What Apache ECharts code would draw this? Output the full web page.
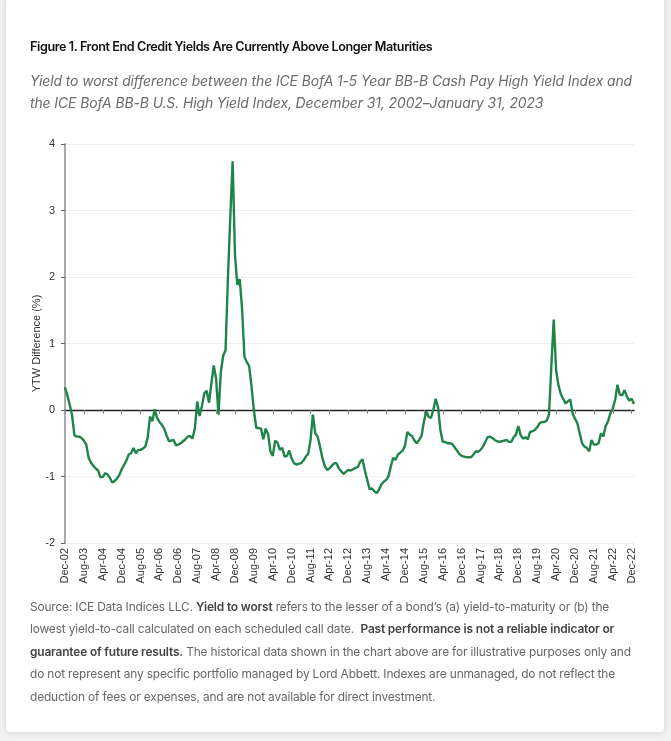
<!DOCTYPE html>
<html>
<head>
<meta charset="utf-8">
<script src="https://cdn.jsdelivr.net/npm/echarts@6/dist/echarts.min.js"></script>
<style>
  html, body { margin: 0; padding: 0; width: 671px; height: 741px; background: #f2f2f2; overflow: hidden; }
  #card { position: absolute; left: 6px; top: -6px; width: 658px; height: 738px; background: #fff;
          border-radius: 4px; box-shadow: 0 1px 6px rgba(0,0,0,0.12); }
  #chart { position: absolute; left: 0; top: 0; width: 671px; height: 741px; }
  .txt { position: absolute; left: 30px; font-family: Inter, "Noto Sans", sans-serif; white-space: nowrap; }
  #title { top: 39px; font-size: 12.6px; font-weight: 600; color: #111; letter-spacing: -0.4px; }
  #sub { top: 70px; font-size: 13.95px; font-style: italic; color: #6b6b6b; line-height: 22px; letter-spacing: -0.1px; }
  #foot { top: 596px; font-size: 11.9px; color: #666; line-height: 22.4px; letter-spacing: -0.15px; }
  #foot b { color: #444; font-weight: 600; }
</style>
</head>
<body>
<div id="card"></div>
<div id="chart"></div>
<div class="txt" id="title">Figure 1. Front End Credit Yields Are Currently Above Longer Maturities</div>
<div class="txt" id="sub">Yield to worst difference between the ICE BofA 1-5 Year BB-B Cash Pay High Yield Index and<br>the ICE BofA BB-B U.S. High Yield Index, December 31, 2002–January 31, 2023</div>
<div class="txt" id="foot">Source: ICE Data Indices LLC. <b>Yield to worst</b> refers to the lesser of a bond’s (a) yield-to-maturity or (b) the<br>lowest yield-to-call calculated on each scheduled call date.&nbsp; <b>Past performance is not a reliable indicator or</b><br><b>guarantee of future results.</b> The historical data shown in the chart above are for illustrative purposes only and<br>do not represent any specific portfolio managed by Lord Abbett. Indexes are unmanaged, do not reflect the<br>deduction of fees or expenses, and are not available for direct investment.</div>
<script>
// Month-end categories, December 2002 through January 2023
const monthNames = ['Jan','Feb','Mar','Apr','May','Jun','Jul','Aug','Sep','Oct','Nov','Dec'];
const startYear = 2002, startMonth = 11, monthCount = 242;
const categories = [];
for (let k = 0; k < monthCount; k++) {
  const m = (startMonth + k) % 12;
  const y = startYear + Math.floor((startMonth + k) / 12);
  categories.push(monthNames[m] + '-' + String(y % 100).padStart(2, '0'));
}

// YTW difference (%)
const ytwDifference = [
  0.34, 0.22, 0.08, -0.08, -0.38, -0.40, -0.40, -0.42, -0.46, -0.52,
  -0.72, -0.79, -0.84, -0.88, -0.91, -1.01, -1.01, -0.95, -0.97, -1.02,
  -1.09, -1.07, -1.03, -0.98, -0.89, -0.83, -0.76, -0.67, -0.65, -0.57,
  -0.65, -0.60, -0.60, -0.58, -0.55, -0.42, -0.10, -0.17, 0.01, -0.12,
  -0.18, -0.22, -0.28, -0.38, -0.47, -0.46, -0.45, -0.53, -0.52, -0.50,
  -0.47, -0.44, -0.40, -0.39, -0.43, -0.28, 0.13, -0.09, 0.06, 0.25,
  0.29, 0.11, 0.40, 0.67, 0.47, -0.07, 0.57, 0.82, 0.90, 1.98,
  2.89, 3.74, 2.33, 1.88, 1.97, 1.52, 0.80, 0.72, 0.66, 0.35,
  0.00, -0.27, -0.27, -0.28, -0.44, -0.28, -0.36, -0.62, -0.69, -0.46,
  -0.49, -0.60, -0.57, -0.70, -0.69, -0.61, -0.73, -0.80, -0.82, -0.81,
  -0.80, -0.76, -0.70, -0.66, -0.45, -0.07, -0.35, -0.40, -0.55, -0.72,
  -0.84, -0.90, -0.88, -0.84, -0.80, -0.80, -0.88, -0.92, -0.96, -0.93,
  -0.90, -0.91, -0.89, -0.87, -0.86, -0.78, -0.74, -0.91, -1.05, -1.19,
  -1.18, -1.22, -1.25, -1.20, -1.12, -1.08, -1.05, -1.00, -0.85, -0.72,
  -0.75, -0.67, -0.64, -0.61, -0.54, -0.33, -0.37, -0.39, -0.46, -0.50,
  -0.45, -0.39, -0.18, -0.02, -0.10, -0.12, 0.00, 0.17, 0.04, -0.30,
  -0.48, -0.48, -0.50, -0.50, -0.51, -0.56, -0.61, -0.66, -0.69, -0.70,
  -0.71, -0.71, -0.71, -0.67, -0.62, -0.63, -0.60, -0.55, -0.48, -0.41,
  -0.40, -0.42, -0.45, -0.47, -0.48, -0.47, -0.46, -0.45, -0.48, -0.48,
  -0.41, -0.37, -0.24, -0.38, -0.43, -0.41, -0.44, -0.33, -0.32, -0.30,
  -0.26, -0.20, -0.18, -0.18, -0.16, -0.07, 0.67, 1.36, 0.60, 0.37,
  0.24, 0.17, 0.10, 0.13, 0.16, -0.05, -0.13, -0.20, -0.35, -0.50,
  -0.55, -0.57, -0.62, -0.45, -0.52, -0.52, -0.50, -0.35, -0.40, -0.24,
  -0.17, -0.05, 0.02, 0.15, 0.38, 0.23, 0.22, 0.30, 0.20, 0.14,
  0.17, 0.09
];

// Y-axis ticks
const yTicks = { min: -2, max: 4, interval: 1 };
const labelEvery = 8; // one x label every 8 months

const chart = echarts.init(document.getElementById('chart'), null, { renderer: 'canvas' });
chart.setOption({
  animation: false,
  backgroundColor: 'transparent',
  grid: { left: 65, right: 37, top: 144, bottom: 198, containLabel: false },
  xAxis: [
    {
      type: 'category', data: categories, boundaryGap: false,
      axisLine: { show: false, onZero: false },
      axisTick: { show: false },
      axisLabel: { interval: labelEvery - 1, rotate: 90, margin: 5, fontSize: 11,
                   color: '#333', fontFamily: '"Liberation Sans", Arial, sans-serif' },
      splitLine: { show: false }
    },
    {
      type: 'category', data: categories, boundaryGap: false, position: 'bottom',
      axisLine: { show: true, onZero: true, lineStyle: { color: '#222', width: 1.3 } },
      axisTick: { show: true, interval: labelEvery - 1, length: 4, lineStyle: { color: '#888' } },
      axisLabel: { show: false },
      splitLine: { show: false }
    }
  ],
  yAxis: {
    type: 'value', min: yTicks.min, max: yTicks.max, interval: yTicks.interval,
    name: 'YTW Difference (%)', nameLocation: 'middle', nameGap: 23, nameRotate: 90,
    nameMoveOverlap: false,
    nameTextStyle: { fontSize: 11, color: '#333', fontFamily: '"Liberation Sans", Arial, sans-serif' },
    axisLine: { show: true, onZero: false, lineStyle: { color: '#aaa', width: 2 } },
    axisTick: { show: true, length: 4, lineStyle: { color: '#666' } },
    axisLabel: { fontSize: 11, color: '#333', margin: 10, fontFamily: '"Liberation Sans", Arial, sans-serif' },
    splitLine: { show: true, lineStyle: { color: '#eeeeee', width: 1 } }
  },
  series: [{
    type: 'line', data: ytwDifference, xAxisIndex: 0,
    showSymbol: false, symbol: 'none', smooth: false,
    lineStyle: { color: '#1e8449', width: 2.4 }
  }]
});
</script>
</body>
</html>
